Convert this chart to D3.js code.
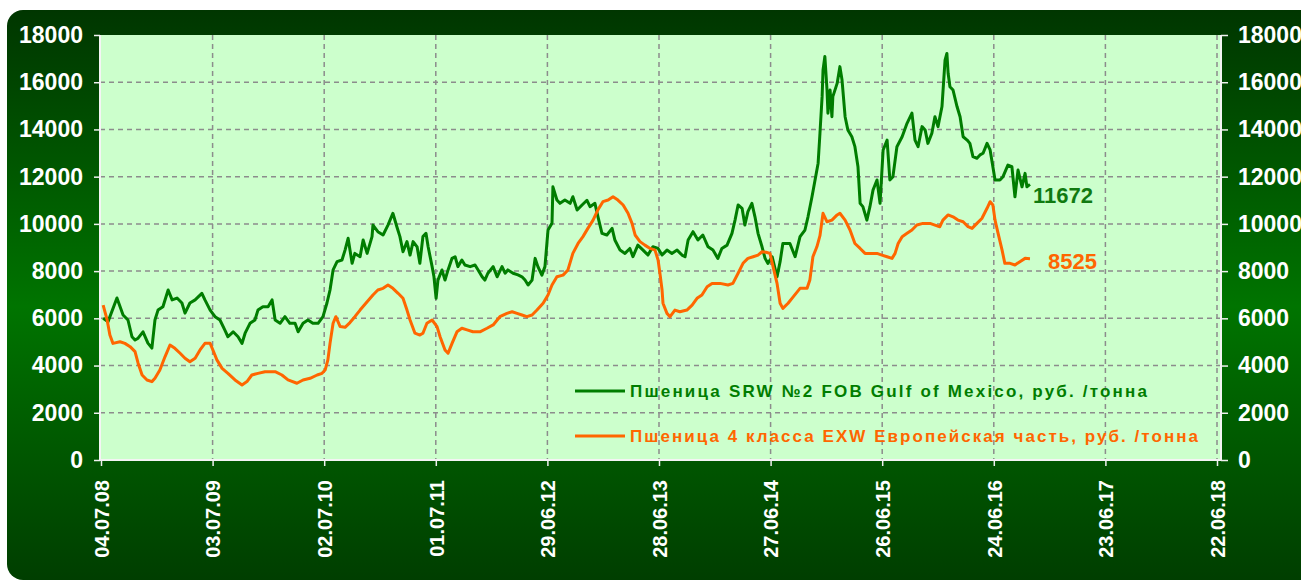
<!DOCTYPE html>
<html><head><meta charset="utf-8">
<script src="https://cdn.jsdelivr.net/npm/d3@7"></script>
<style>body{margin:0;background:#fff}svg{display:block}</style>
</head><body><svg id="c" width="1301" height="582"></svg>
<script>
// ---------- DATA ----------
const startDate = "2008-07-04"; // day offsets below are counted from this date
const xTickLabels = ["04.07.08","03.07.09","02.07.10","01.07.11","29.06.12","28.06.13","27.06.14","26.06.15","24.06.16","23.06.17","22.06.18"];
const yTicks = [0,2000,4000,6000,8000,10000,12000,14000,16000,18000];
const greenName = "Пшеница SRW №2 FOB Gulf of Mexico, руб. /тонна";
const orangeName = "Пшеница 4 класса EXW Европейская часть, руб. /тонна";
// [day offset from startDate, rub/tonne]
const greenPoints = [[7,6000],[23,5860],[52,6860],[72,6140],[88,5930],[101,5220],[111,5080],[121,5160],[137,5430],[153,4950],[166,4740],[176,5930],[186,6350],[202,6490],[219,7200],[232,6780],[248,6860],[264,6650],[274,6220],[290,6650],[307,6780],[329,7060],[339,6780],[356,6350],[372,6070],[388,5930],[404,5500],[414,5220],[431,5430],[447,5220],[460,4940],[470,5370],[486,5790],[502,5930],[512,6350],[528,6490],[545,6490],[558,6780],[568,5930],[584,5790],[600,6070],[616,5790],[633,5790],[643,5430],[659,5790],[675,5930],[691,5790],[708,5790],[724,6070],[737,6650],[747,7200],[757,8050],[770,8400],[786,8470],[796,8890],[806,9390],[819,8330],[828,8750],[845,8610],[855,9320],[868,8750],[884,9460],[887,9950],[903,9670],[920,9530],[936,9950],[952,10450],[965,9880],[975,9460],[985,8820],[998,9250],[1008,8680],[1018,9250],[1031,9030],[1040,8330],[1050,9460],[1060,9600],[1067,9030],[1080,8190],[1086,7760],[1093,6850],[1099,7620],[1112,8050],[1122,7620],[1132,8050],[1145,8540],[1155,8610],[1164,8190],[1177,8470],[1187,8260],[1204,8190],[1220,8260],[1230,8050],[1243,7760],[1252,7620],[1262,7910],[1279,8190],[1292,7760],[1308,8190],[1318,7910],[1327,8050],[1344,7910],[1360,7840],[1373,7760],[1383,7620],[1393,7410],[1406,7620],[1416,8540],[1425,8190],[1438,7830],[1448,8190],[1458,9740],[1471,10030],[1474,11570],[1487,11010],[1497,10870],[1513,11010],[1530,10870],[1539,11150],[1553,10590],[1569,10800],[1585,11000],[1595,10730],[1611,10870],[1621,10300],[1634,9600],[1650,9530],[1667,9810],[1676,9320],[1693,8890],[1709,8750],[1725,8960],[1735,8610],[1751,9100],[1768,8890],[1784,8680],[1800,9030],[1817,8960],[1830,8680],[1846,8890],[1862,8750],[1879,8890],[1895,8680],[1905,8610],[1915,9320],[1931,9670],[1947,9320],[1963,9530],[1980,9030],[1996,8890],[2012,8540],[2025,8960],[2042,9100],[2058,9600],[2068,10160],[2078,10800],[2091,10660],[2100,9950],[2110,10520],[2123,10870],[2133,10300],[2143,9600],[2156,9030],[2166,8540],[2175,8330],[2189,8610],[2205,7760],[2215,8400],[2224,9170],[2247,9170],[2264,8610],[2280,9460],[2296,9740],[2306,10300],[2319,11150],[2329,11860],[2339,12570],[2345,13840],[2352,15390],[2355,16520],[2361,17090],[2368,15670],[2371,14690],[2378,15670],[2384,14540],[2387,15390],[2401,15950],[2410,16660],[2417,16090],[2427,14540],[2436,13980],[2449,13690],[2459,13270],[2469,12420],[2476,10870],[2485,10730],[2498,10160],[2508,10730],[2518,11430],[2531,11860],[2541,10870],[2551,13130],[2564,13550],[2573,11860],[2583,12000],[2596,13270],[2613,13690],[2629,14260],[2645,14690],[2655,13550],[2665,13270],[2678,14120],[2688,13980],[2697,13410],[2710,13840],[2720,14540],[2730,14120],[2743,14970],[2753,16940],[2759,17220],[2763,16380],[2769,15810],[2779,15670],[2792,14970],[2802,14540],[2812,13690],[2825,13550],[2834,13410],[2844,12850],[2857,12780],[2867,12920],[2877,12990],[2890,13410],[2900,13130],[2909,12420],[2916,11860],[2932,11860],[2942,12000],[2958,12490],[2971,12420],[2981,11150],[2991,12280],[3004,11570],[3014,12140],[3020,11570],[3030,11672]];
const orangePoints = [[7,6560],[20,5930],[29,5290],[39,4940],[62,5010],[78,4940],[95,4800],[111,4590],[121,4100],[134,3600],[150,3390],[166,3320],[176,3460],[192,3810],[209,4380],[225,4870],[241,4730],[258,4520],[274,4310],[290,4160],[307,4310],[323,4660],[339,4940],[356,4940],[365,4660],[378,4240],[395,3880],[414,3670],[437,3390],[460,3180],[476,3320],[492,3600],[512,3670],[535,3740],[568,3740],[590,3600],[610,3390],[639,3250],[659,3390],[682,3460],[705,3600],[721,3670],[731,3810],[740,4240],[747,4940],[757,5790],[766,6070],[780,5650],[796,5620],[812,5820],[828,6070],[845,6350],[868,6700],[887,6990],[903,7200],[920,7270],[936,7410],[952,7270],[969,7060],[985,6850],[998,6350],[1008,5930],[1024,5370],[1040,5290],[1050,5370],[1063,5790],[1080,5930],[1096,5650],[1106,5220],[1122,4660],[1132,4520],[1145,4940],[1161,5430],[1177,5580],[1194,5510],[1213,5430],[1236,5430],[1259,5580],[1279,5720],[1301,6070],[1324,6210],[1341,6280],[1357,6210],[1373,6140],[1389,6070],[1406,6140],[1422,6350],[1442,6640],[1458,6990],[1471,7410],[1487,7760],[1507,7830],[1523,8050],[1539,8750],[1556,9170],[1572,9460],[1588,9810],[1605,10160],[1621,10600],[1637,10940],[1654,11010],[1670,11150],[1686,11010],[1703,10800],[1719,10450],[1732,10020],[1742,9530],[1758,9250],[1774,9100],[1791,8960],[1807,8890],[1817,8470],[1823,7910],[1830,7200],[1833,6640],[1846,6210],[1856,6070],[1872,6350],[1888,6280],[1911,6350],[1928,6560],[1944,6850],[1960,6990],[1977,7340],[1993,7480],[2019,7480],[2045,7410],[2061,7480],[2078,7910],[2094,8330],[2110,8540],[2127,8610],[2143,8680],[2156,8820],[2169,8800],[2182,8750],[2192,8190],[2205,7480],[2215,6640],[2224,6420],[2241,6640],[2257,6900],[2280,7270],[2303,7270],[2312,7620],[2322,8610],[2335,9030],[2345,9500],[2355,10450],[2368,10090],[2384,10160],[2401,10380],[2410,10450],[2427,10160],[2443,9740],[2459,9170],[2476,8960],[2492,8750],[2508,8750],[2531,8750],[2547,8680],[2564,8610],[2580,8540],[2590,8750],[2600,9170],[2613,9460],[2629,9600],[2645,9740],[2661,9950],[2681,10020],[2704,10020],[2720,9950],[2736,9880],[2746,10160],[2763,10380],[2779,10300],[2795,10160],[2812,10090],[2828,9880],[2841,9810],[2857,10020],[2873,10230],[2890,10660],[2900,10940],[2909,10800],[2916,10160],[2926,9600],[2939,8890],[2948,8330],[2965,8330],[2981,8260],[2997,8400],[3014,8540],[3030,8525]];

// ---------- CHART ----------
const svg = d3.select("#c");
const FONT = "'Liberation Sans', Arial, sans-serif";
const base = d3.timeParse("%Y-%m-%d")(startDate);
const parseTick = d3.timeParse("%d.%m.%y");
const tickDates = xTickLabels.map(parseTick);
const plotL = 100, plotR = 1221, plotT = 35, plotB = 460;

const x = d3.scaleTime().domain([tickDates[0], tickDates[tickDates.length - 1]]).range([101, 1217]);
const y = d3.scaleLinear().domain([0, 18000]).range([plotB, plotT]);

const defs = svg.append("defs");
const grad = defs.append("linearGradient").attr("id", "bg").attr("x1", 0).attr("y1", 0).attr("x2", 0).attr("y2", 1);
grad.append("stop").attr("offset", "0%").attr("stop-color", "#003600");
grad.append("stop").attr("offset", "52%").attr("stop-color", "#007400");
grad.append("stop").attr("offset", "100%").attr("stop-color", "#003e00");

svg.append("rect").attr("x", 7).attr("y", 10).attr("width", 1330).attr("height", 570)
  .attr("rx", 16).attr("fill", "url(#bg)");

svg.append("rect").attr("x", plotL).attr("y", plotT).attr("width", plotR - plotL).attr("height", plotB - plotT)
  .attr("fill", "#ccffcc");

// grid
const grid = svg.append("g").attr("stroke", "#8c8c8c").attr("stroke-width", 1.5).attr("stroke-dasharray", "5,4");
grid.selectAll("line.h").data(yTicks.filter(v => v > 0 && v < 18000)).join("line")
  .attr("x1", plotL).attr("x2", plotR).attr("y1", d => y(d)).attr("y2", d => y(d));
grid.selectAll("line.v").data(tickDates.slice(1)).join("line")
  .attr("x1", d => x(d)).attr("x2", d => x(d)).attr("y1", plotT).attr("y2", plotB);

// axes
function styleAxis(g, size) {
  g.selectAll(".domain").remove();
  g.selectAll(".tick line").attr("stroke", "#f0f0f0").attr("stroke-width", 1.5);
  g.selectAll(".tick text").attr("fill", "#ffffff").style("font-family", FONT)
    .style("font-weight", "bold").style("font-size", size + "px");
}
const yl = svg.append("g").attr("transform", `translate(${plotL},0)`)
  .call(d3.axisLeft(y).tickValues(yTicks).tickFormat(d3.format("d")).tickSize(6).tickPadding(11));
styleAxis(yl, 23);
const yr = svg.append("g").attr("transform", `translate(${plotR},0)`)
  .call(d3.axisRight(y).tickValues(yTicks).tickFormat(d3.format("d")).tickSize(7).tickPadding(10));
styleAxis(yr, 23);
const xb = svg.append("g").attr("transform", `translate(0,${plotB})`)
  .call(d3.axisBottom(x).tickValues(tickDates).tickFormat(d3.timeFormat("%d.%m.%y")).tickSize(6));
styleAxis(xb, 20);
xb.selectAll(".tick text").attr("transform", "rotate(-90)").attr("text-anchor", "end")
  .attr("x", -20).attr("y", 0).attr("dy", "0.36em");

// axis lines
const al = svg.append("g").attr("stroke", "#f4f4f4").attr("stroke-width", 2);
al.append("line").attr("x1", plotL).attr("x2", plotL).attr("y1", plotT).attr("y2", plotB);
al.append("line").attr("x1", plotR).attr("x2", plotR).attr("y1", plotT).attr("y2", plotB);
al.append("line").attr("x1", plotL).attr("x2", plotR).attr("y1", plotB).attr("y2", plotB);

// series
const line = d3.line().x(d => x(d3.timeDay.offset(base, d[0]))).y(d => y(d[1]));
const GREEN = "#007d00", ORANGE = "#ff6600";
svg.append("path").datum(greenPoints).attr("d", line).attr("fill", "none")
  .attr("stroke", GREEN).attr("stroke-width", 3).attr("stroke-linejoin", "round");
svg.append("path").datum(orangePoints).attr("d", line).attr("fill", "none")
  .attr("stroke", ORANGE).attr("stroke-width", 3).attr("stroke-linejoin", "round");

// end value labels
const gl = greenPoints[greenPoints.length - 1], ol = orangePoints[orangePoints.length - 1];
svg.append("text").attr("x", x(d3.timeDay.offset(base, gl[0])) + 3).attr("y", y(gl[1]) + 19)
  .text(gl[1]).attr("fill", "#107a10").style("font-family", FONT).style("font-weight", "bold").style("font-size", "22px");
svg.append("text").attr("x", x(d3.timeDay.offset(base, ol[0])) + 18).attr("y", y(ol[1]) + 10)
  .text(ol[1]).attr("fill", ORANGE).style("font-family", FONT).style("font-weight", "bold").style("font-size", "22px");

// legend
const legend = [
  { name: greenName, color: GREEN, ly: 391, len: 517 },
  { name: orangeName, color: ORANGE, ly: 436, len: 568 }
];
const lg = svg.append("g");
lg.selectAll("line").data(legend).join("line")
  .attr("x1", 575).attr("x2", 625).attr("y1", d => d.ly).attr("y2", d => d.ly)
  .attr("stroke", d => d.color).attr("stroke-width", 3);
lg.selectAll("text").data(legend).join("text")
  .attr("x", 630).attr("y", d => d.ly + 6).text(d => d.name)
  .attr("fill", d => d.color).attr("textLength", d => d.len).attr("lengthAdjust", "spacing")
  .style("font-family", FONT).style("font-weight", "bold").style("font-size", "17px");
</script></body></html>
